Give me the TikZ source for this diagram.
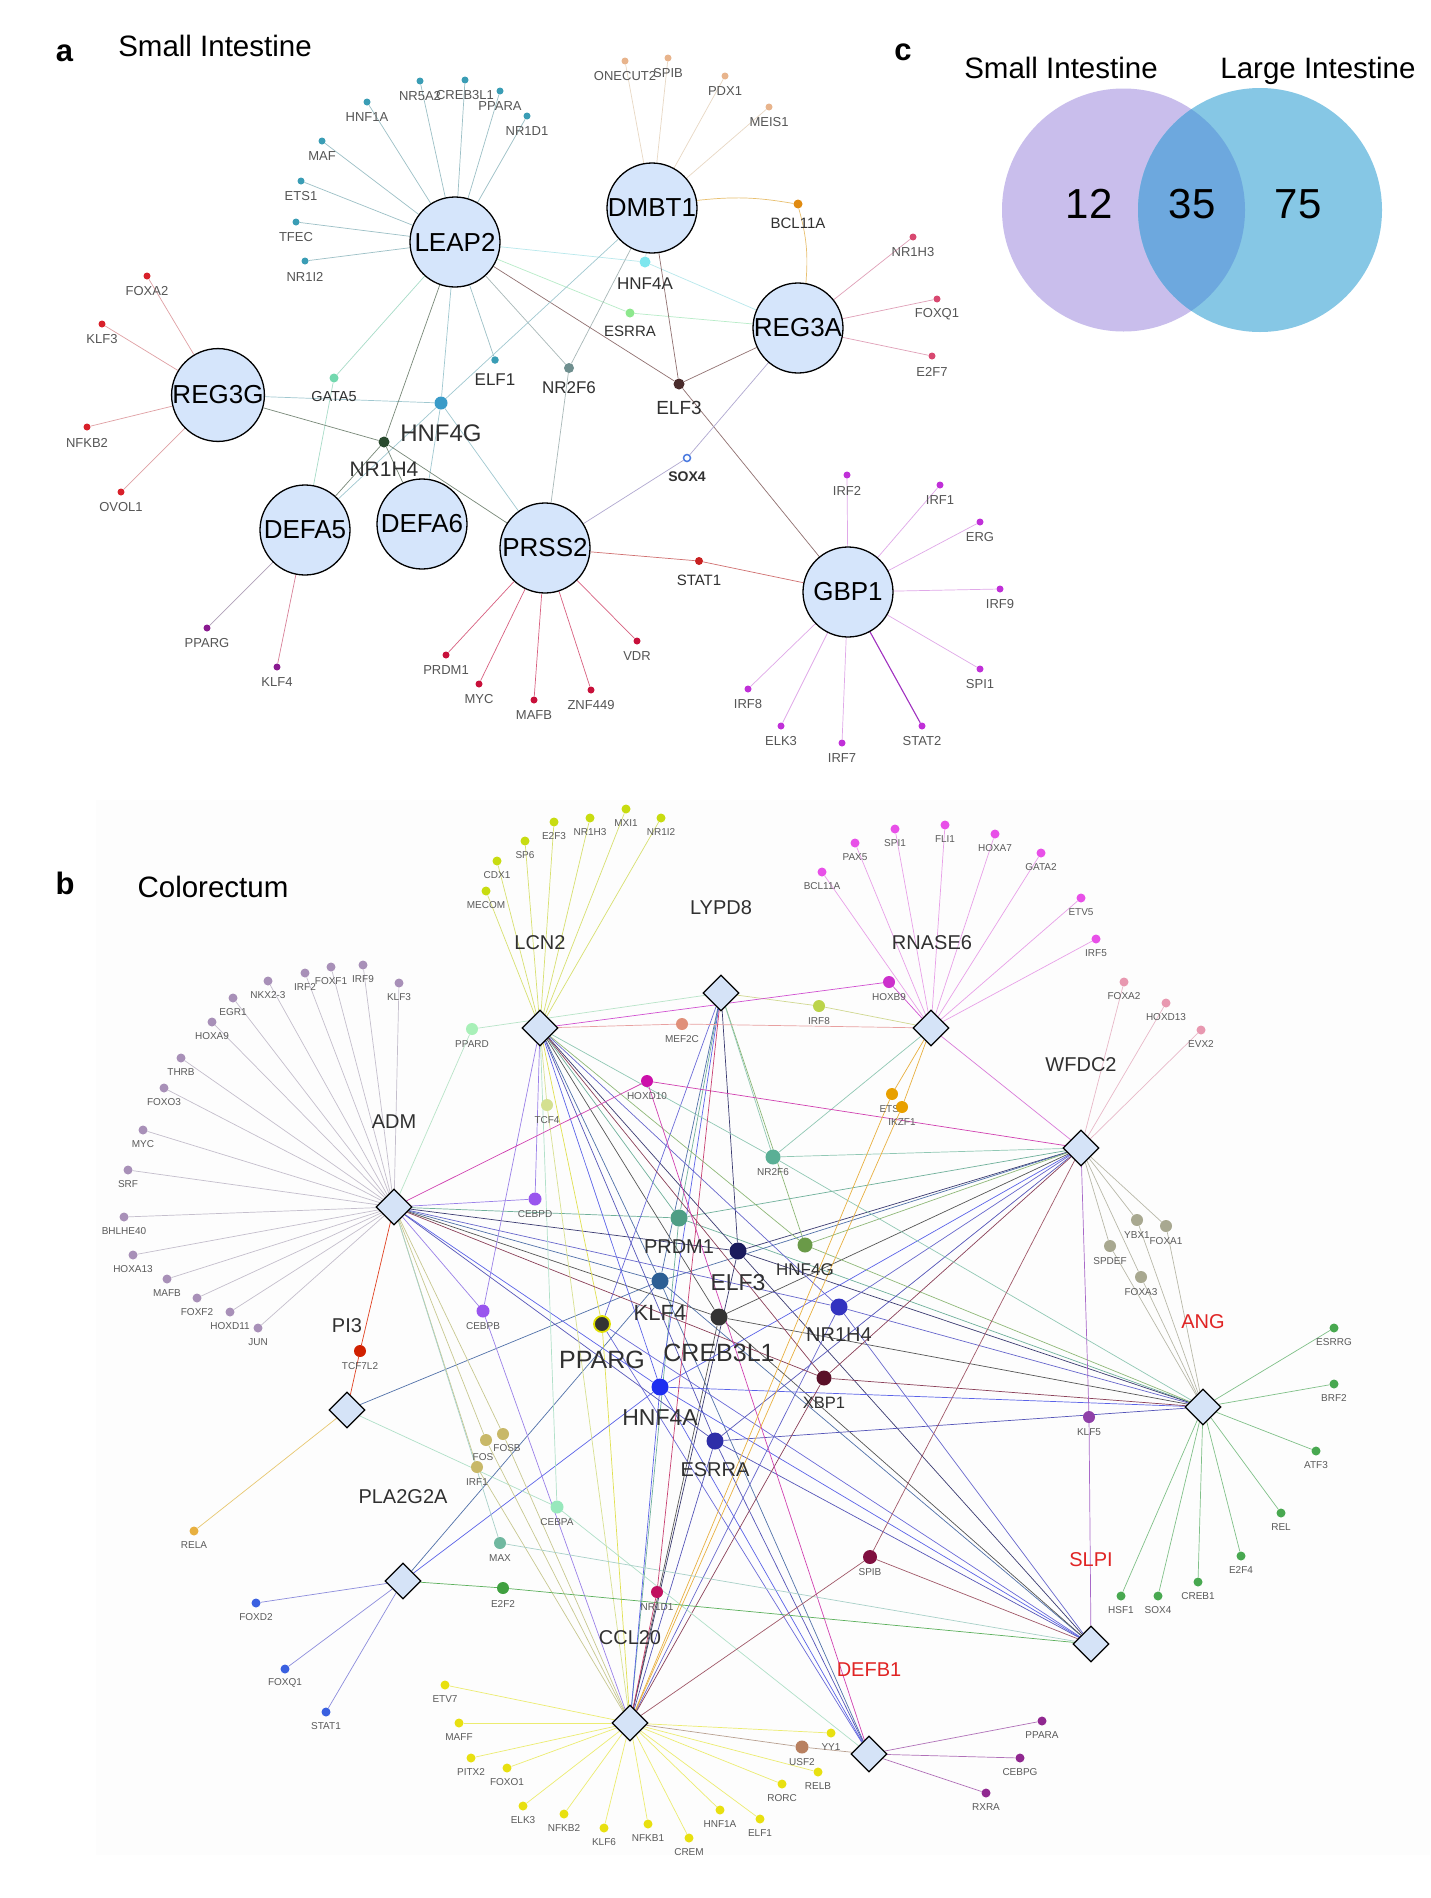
\documentclass[tikz,border=0pt]{standalone}
\usepackage{fontspec}
\setmainfont{Liberation Sans}
\usetikzlibrary{shapes.geometric,backgrounds}
\newcommand{\fsz}[1]{\fontsize{#1}{#1}\selectfont}
% general
\definecolor{cfill}{HTML}{D5E5FB}
\definecolor{dfill}{HTML}{D5E3F7}
\definecolor{labA}{HTML}{555555}
\definecolor{labB}{HTML}{5A5A5A}
\definecolor{labH}{HTML}{303030}
\definecolor{redlab}{HTML}{E02424}
\definecolor{venL}{HTML}{C9BEEC}
\definecolor{venR}{HTML}{86C7E5}
\definecolor{venM}{HTML}{6DA8DE}
\definecolor{panelbg}{HTML}{FDFDFD}
% panel a dot colours
\definecolor{dLEAP}{HTML}{3A9DB5}
\definecolor{dDMBT}{HTML}{E8B48C}
\definecolor{dREGA}{HTML}{D84870}
\definecolor{dREGG}{HTML}{D8202A}
\definecolor{dDEFA}{HTML}{8A1A90}
\definecolor{dPRSS}{HTML}{C8103A}
\definecolor{dGBP}{HTML}{C030D8}
\definecolor{dHNFa}{HTML}{7EE6EE}
\definecolor{dESRRA}{HTML}{8DE88D}
\definecolor{dNRtwo}{HTML}{6F8F8F}
\definecolor{dELFthree}{HTML}{4A2C2C}
\definecolor{dGATA}{HTML}{72D8AE}
\definecolor{dHNFg}{HTML}{3A9BC8}
\definecolor{dNRoneH}{HTML}{2A4A2E}
\definecolor{dSOX}{HTML}{4A7AE0}
\definecolor{dSTAT}{HTML}{C82020}
\definecolor{dBCL}{HTML}{E08A10}
% panel a edge colours
\definecolor{eLEAPs}{HTML}{9CC0C6}
\definecolor{eDMBTs}{HTML}{E8D8C4}
\definecolor{eREGAs}{HTML}{E0A0B8}
\definecolor{eREGGs}{HTML}{E0A0A4}
\definecolor{eDEFAp}{HTML}{B0A0B8}
\definecolor{eDEFAk}{HTML}{D88098}
\definecolor{ePRSSs}{HTML}{D86080}
\definecolor{eGBPs}{HTML}{E0A8E8}
\definecolor{eSTATtwo}{HTML}{A030C0}
\definecolor{eHNFa}{HTML}{B8E8EC}
\definecolor{eESRRA}{HTML}{B8ECC8}
\definecolor{eNRtwo}{HTML}{A8B8B8}
\definecolor{eELFthree}{HTML}{907070}
\definecolor{eGATA}{HTML}{A8DCC8}
\definecolor{eHNFg}{HTML}{A0C8D0}
\definecolor{eNRoneH}{HTML}{788878}
\definecolor{eSOX}{HTML}{B0A8D0}
\definecolor{eSTAT}{HTML}{D07070}
\definecolor{eBCL}{HTML}{E8C070}
% panel b hub colours
\definecolor{hPRDM}{HTML}{4E9E85}
\definecolor{hELF}{HTML}{1A1A5C}
\definecolor{hKLF}{HTML}{2C5E94}
\definecolor{hCREB}{HTML}{333333}
\definecolor{ringY}{HTML}{E0E000}
\definecolor{hHNFa}{HTML}{1E2EF0}
\definecolor{hESRRA}{HTML}{2E2EA8}
\definecolor{hNRoneH}{HTML}{3333C0}
\definecolor{hHNFg}{HTML}{6A9A48}
\definecolor{hXBP}{HTML}{5A1028}
\definecolor{mNRtwo}{HTML}{5AAF95}
\definecolor{mCEBP}{HTML}{9955EE}
\definecolor{mCEBPA}{HTML}{98E8BC}
\definecolor{mTCF}{HTML}{D4E090}
\definecolor{mHOXD}{HTML}{CC10AA}
\definecolor{mMEF}{HTML}{E0907A}
\definecolor{mPPARD}{HTML}{A8F0B8}
\definecolor{mIRFeight}{HTML}{BCD44A}
\definecolor{mHOXB}{HTML}{CC30CC}
\definecolor{mETS}{HTML}{E8A000}
\definecolor{mFOS}{HTML}{C8B868}
\definecolor{mMAX}{HTML}{70B8A0}
\definecolor{mEtwoF}{HTML}{40A040}
\definecolor{mNRoneD}{HTML}{C01060}
\definecolor{mSPIB}{HTML}{801040}
\definecolor{mKLFfive}{HTML}{9040A8}
\definecolor{mTCFseven}{HTML}{D02000}
\definecolor{mUSF}{HTML}{B88060}
\definecolor{mFOXA}{HTML}{A8A890}
% panel b satellite colours
\definecolor{sLCN}{HTML}{C8DC10}
\definecolor{sRN}{HTML}{E850E8}
\definecolor{sWF}{HTML}{E898B0}
\definecolor{sADM}{HTML}{A890B8}
\definecolor{sRELA}{HTML}{E8B040}
\definecolor{sPLA}{HTML}{3A60E0}
\definecolor{sANG}{HTML}{48A850}
\definecolor{sCCL}{HTML}{E8E010}
\definecolor{sDEF}{HTML}{902890}
% panel b edge colours
\definecolor{ePRDM}{HTML}{6FB09A}
\definecolor{eELF}{HTML}{3A3A70}
\definecolor{eKLF}{HTML}{5070A8}
\definecolor{eCREB}{HTML}{555555}
\definecolor{ePPY}{HTML}{E0E050}
\definecolor{ePPB}{HTML}{6A6AD8}
\definecolor{ebHNFa}{HTML}{5A62E8}
\definecolor{ebESRRA}{HTML}{5555B8}
\definecolor{ebNRoneH}{HTML}{6666CC}
\definecolor{ebHNFg}{HTML}{8FB878}
\definecolor{eXBP}{HTML}{8A4058}
\definecolor{ebNRtwo}{HTML}{90C8B4}
\definecolor{eCEBP}{HTML}{9A80E8}
\definecolor{eCEBPA}{HTML}{B0E0C8}
\definecolor{eTCF}{HTML}{D8E090}
\definecolor{eHOXD}{HTML}{D040B0}
\definecolor{eMEF}{HTML}{E8A0A0}
\definecolor{ePPARD}{HTML}{B8E4C8}
\definecolor{eIRFeight}{HTML}{D0D890}
\definecolor{eHOXB}{HTML}{D050D0}
\definecolor{eETS}{HTML}{E8B040}
\definecolor{eFOS}{HTML}{C8C890}
\definecolor{eMAX}{HTML}{A8D0C8}
\definecolor{eEtwoF}{HTML}{5CB05C}
\definecolor{eNRoneD}{HTML}{C84070}
\definecolor{eSPIB}{HTML}{A05868}
\definecolor{eKLFfive}{HTML}{A868C8}
\definecolor{eTCFseven}{HTML}{E04020}
\definecolor{eUSF}{HTML}{B8A090}
\definecolor{eFOXA}{HTML}{B8B8A8}
\definecolor{eRNWF}{HTML}{D878D8}
\definecolor{eLCNs}{HTML}{D8E070}
\definecolor{eRNs}{HTML}{E8A0E8}
\definecolor{eWFs}{HTML}{E8B8C8}
\definecolor{eADMs}{HTML}{C4BECC}
\definecolor{eRELA}{HTML}{E8C870}
\definecolor{ePLAs}{HTML}{8C8CDC}
\definecolor{eANGs}{HTML}{80C088}
\definecolor{eCCLs}{HTML}{ECEC70}
\definecolor{eDEFs}{HTML}{B070B8}

\tikzset{
 bigc/.style={circle,draw=black,line width=1.3pt,fill=cfill,minimum size=90pt,inner sep=0pt,font=\fsz{26}},
 dmd/.style={diamond,aspect=1,draw=black,line width=1.3pt,fill=dfill,minimum width=36pt,minimum height=36pt,inner sep=0pt},
 dotn/.style={circle,inner sep=0pt,minimum size=#1},
 alab/.style={inner sep=0pt,text=labA,font=\fsz{13}},
 blab/.style={inner sep=0pt,text=labB,font=\fsz{10}},
 hlab/.style={inner sep=0pt,text=labH,font=\fsz{#1}},
 dlab/.style={inner sep=0pt,text=labH,font=\fsz{20}},
 rlab/.style={inner sep=0pt,text=redlab,font=\fsz{20}},
 ed/.style={draw=#1,line width=0.7pt},
}
\newcommand{\asat}[5]{\node[dotn=7pt,fill=#4] (#1) at (#2,#3) {};\node[alab] (#1L) at (#2,#3+15.5) {#5};}
\newcommand{\bsat}[5]{\node[dotn=9pt,fill=#4] (#1) at (#2,#3) {};\node[blab] (#1L) at (#2,#3+14) {#5};}
\newcommand{\bmid}[6]{\node[dotn=#5,fill=#4] (#1) at (#2,#3) {};\node[blab] (#1L) at (#2,#3+15.5) {#6};}

\begin{document}
\begin{tikzpicture}[x=1pt,y=-1pt]
\useasboundingbox (0,0) rectangle (1430,1898);

% ---------------- titles ----------------
\node[font=\fsz{31}\bfseries,anchor=base,inner sep=0pt] (ta) at (64.5,61) {a};
\node[font=\fsz{29.5},anchor=base,inner sep=0pt] (tSI) at (215,56) {Small Intestine};
\node[font=\fsz{31}\bfseries,anchor=base,inner sep=0pt] (tb) at (65,894) {b};
\node[font=\fsz{29.5},anchor=base,inner sep=0pt] (tCR) at (213,897) {Colorectum};
\node[font=\fsz{31}\bfseries,anchor=base,inner sep=0pt] (tc) at (903,60) {c};

% ---------------- panel c: Venn ----------------
\fill[venL] (1123.5,210) circle[radius=121.5pt];
\fill[venR] (1260,210) circle[radius=122pt];
\begin{scope}
\clip (1123.5,210) circle[radius=121.5pt];
\fill[venM] (1260,210) circle[radius=122pt];
\end{scope}
\node[font=\fsz{29.5},anchor=base,inner sep=0pt] (vSI) at (1061,78) {Small Intestine};
\node[font=\fsz{29.5},anchor=base,inner sep=0pt] (vLI) at (1318,78) {Large Intestine};
\node[font=\fsz{42},anchor=base,inner sep=0pt] (v12) at (1089,218) {12};
\node[font=\fsz{42},anchor=base,inner sep=0pt] (v35) at (1192,218) {35};
\node[font=\fsz{42},anchor=base,inner sep=0pt] (v75) at (1298,218) {75};

% ---------------- panel a ----------------
\node[bigc] (aLEAP2) at (455,242) {LEAP2};
\node[bigc] (aDMBT1) at (652,208) {DMBT1};
\node[bigc] (aREG3A) at (798,328) {REG3A};
\node[bigc] (aREG3G) at (218,395) {REG3G};
\node[bigc] (aDEFA5) at (305,530) {DEFA5};
\node[bigc] (aDEFA6) at (422,524) {DEFA6};
\node[bigc] (aPRSS2) at (545,548) {PRSS2};
\node[bigc] (aGBP1) at (848,592) {GBP1};

\node[dotn=11pt,fill=dHNFa] (aHNF4A) at (645,262) {};
\node[hlab=17] (aHNF4AL) at (645,284) {HNF4A};
\node[dotn=9pt,fill=dESRRA] (aESRRA) at (630,313) {};
\node[hlab=15] (aESRRAL) at (630,331) {ESRRA};
\node[dotn=7.5pt,fill=dLEAP] (aELF1) at (495,360) {};
\node[hlab=17] (aELF1L) at (495,380) {ELF1};
\node[dotn=10pt,fill=dNRtwo] (aNR2F6) at (569,368) {};
\node[hlab=17] (aNR2F6L) at (569,388) {NR2F6};
\node[dotn=11pt,fill=dELFthree] (aELF3) at (679,384) {};
\node[hlab=19] (aELF3L) at (679,408) {ELF3};
\node[dotn=9pt,fill=dGATA] (aGATA5) at (334,378) {};
\node[hlab=14.5] (aGATA5L) at (334,397) {GATA5};
\node[dotn=13pt,fill=dHNFg] (aHNF4G) at (441,403) {};
\node[hlab=24] (aHNF4GL) at (441,433) {HNF4G};
\node[dotn=11pt,fill=dNRoneH] (aNR1H4) at (384,442) {};
\node[hlab=21] (aNR1H4L) at (384,469) {NR1H4};
\node[dotn=7pt,fill=white,draw=dSOX,line width=1.5pt] (aSOX4) at (687,458) {};
\node[hlab=14,font=\fsz{14}\bfseries] (aSOX4L) at (687,477) {SOX4};
\node[dotn=8pt,fill=dSTAT] (aSTAT1) at (699,561) {};
\node[hlab=15] (aSTAT1L) at (699,580) {STAT1};
\node[dotn=9pt,fill=dBCL] (aBCL11A) at (798,204) {};
\node[hlab=15] (aBCL11AL) at (798,223) {BCL11A};

\asat{aHNF1A}{367}{102}{dLEAP}{HNF1A}
\asat{aNR5A2}{420}{81}{dLEAP}{NR5A2}
\asat{aCREB3L1}{465}{80}{dLEAP}{CREB3L1}
\asat{aPPARA}{500}{91}{dLEAP}{PPARA}
\asat{aNR1D1}{527}{116}{dLEAP}{NR1D1}
\asat{aMAF}{322}{141}{dLEAP}{MAF}
\asat{aETS1}{301}{181}{dLEAP}{ETS1}
\asat{aTFEC}{296}{222}{dLEAP}{TFEC}
\asat{aNR1I2}{305}{261}{dLEAP}{NR1I2}
\asat{aONECUT2}{625}{61}{dDMBT}{ONECUT2}
\asat{aSPIB}{668}{58}{dDMBT}{SPIB}
\asat{aPDX1}{725}{76}{dDMBT}{PDX1}
\asat{aMEIS1}{769}{107}{dDMBT}{MEIS1}
\asat{aNR1H3}{913}{237}{dREGA}{NR1H3}
\asat{aFOXQ1}{937}{299}{dREGA}{FOXQ1}
\asat{aE2F7}{932}{356}{dREGA}{E2F7}
\asat{aFOXA2}{147}{276}{dREGG}{FOXA2}
\asat{aKLF3}{102}{324}{dREGG}{KLF3}
\asat{aNFKB2}{87}{427}{dREGG}{NFKB2}
\asat{aOVOL1}{121}{492}{dREGG}{OVOL1}
\asat{aPPARG}{207}{628}{dDEFA}{PPARG}
\asat{aKLF4}{277}{667}{dDEFA}{KLF4}
\asat{aPRDM1}{446}{655}{dPRSS}{PRDM1}
\asat{aMYC}{479}{684}{dPRSS}{MYC}
\asat{aMAFB}{534}{700}{dPRSS}{MAFB}
\asat{aZNF449}{591}{690}{dPRSS}{ZNF449}
\asat{aVDR}{637}{641}{dPRSS}{VDR}
\asat{aIRF2}{847}{475}{dGBP}{IRF2}
\asat{aIRF1}{940}{485}{dGBP}{IRF1}
\asat{aERG}{980}{522}{dGBP}{ERG}
\asat{aIRF9}{1000}{589}{dGBP}{IRF9}
\asat{aSPI1}{980}{669}{dGBP}{SPI1}
\asat{aSTAT2}{922}{726}{dGBP}{STAT2}
\asat{aIRF7}{842}{743}{dGBP}{IRF7}
\asat{aELK3}{781}{726}{dGBP}{ELK3}
\asat{aIRF8}{748}{689}{dGBP}{IRF8}

% ---------------- panel b ----------------
\node[dmd] (bLCN2) at (540,1028) {};
\node[dlab] (bLCN2L) at (540,943) {LCN2};
\node[dmd] (bLYPD8) at (721,993) {};
\node[dlab] (bLYPD8L) at (721,908) {LYPD8};
\node[dmd] (bRNASE6) at (931,1028) {};
\node[dlab] (bRNASE6L) at (932,943) {RNASE6};
\node[dmd] (bWFDC2) at (1081,1148) {};
\node[dlab] (bWFDC2L) at (1081,1065) {WFDC2};
\node[dmd] (bADM) at (394,1207) {};
\node[dlab] (bADML) at (394,1122) {ADM};
\node[dmd] (bPI3) at (347,1410) {};
\node[dlab] (bPI3L) at (347,1326) {PI3};
\node[dmd] (bPLA) at (403,1581) {};
\node[dlab] (bPLAL) at (403,1497) {PLA2G2A};
\node[dmd] (bANG) at (1203,1407) {};
\node[rlab] (bANGL) at (1203,1322) {ANG};
\node[dmd] (bCCL20) at (630,1723) {};
\node[dlab] (bCCL20L) at (630,1638) {CCL20};
\node[dmd] (bSLPI) at (1091,1644) {};
\node[rlab] (bSLPIL) at (1091,1560) {SLPI};
\node[dmd] (bDEFB1) at (869,1754) {};
\node[rlab] (bDEFB1L) at (869,1670) {DEFB1};

% hubs
\node[dotn=17pt,fill=hPRDM] (bPRDM1) at (679,1218) {};
\node[hlab=20] (bPRDM1L) at (679,1247) {PRDM1};
\node[dotn=17pt,fill=hELF] (bELF3) at (738,1251) {};
\node[hlab=23] (bELF3L) at (738,1283) {ELF3};
\node[dotn=17pt,fill=hKLF] (bKLF4) at (660,1281) {};
\node[hlab=22] (bKLF4L) at (660,1313) {KLF4};
\node[dotn=17pt,fill=hCREB] (bCREB3L1) at (719,1317) {};
\node[hlab=25] (bCREB3L1L) at (719,1353) {CREB3L1};
\node[dotn=16pt,fill=hCREB,draw=ringY,line width=1.8pt] (bPPARG) at (602,1324) {};
\node[hlab=25] (bPPARGL) at (602,1360) {PPARG};
\node[dotn=17pt,fill=hHNFa] (bHNF4A) at (660,1387) {};
\node[hlab=23] (bHNF4AL) at (660,1418) {HNF4A};
\node[dotn=17pt,fill=hESRRA] (bESRRA) at (715,1441) {};
\node[hlab=20] (bESRRAL) at (715,1470) {ESRRA};
\node[dotn=17pt,fill=hNRoneH] (bNR1H4) at (839,1307) {};
\node[hlab=20] (bNR1H4L) at (839,1335) {NR1H4};
\node[dotn=15pt,fill=hHNFg] (bHNF4G) at (805,1245) {};
\node[hlab=17] (bHNF4GL) at (805,1270) {HNF4G};
\node[dotn=15pt,fill=hXBP] (bXBP1) at (824,1378) {};
\node[hlab=16.5] (bXBP1L) at (824,1403) {XBP1};

% mid-size TFs
\bmid{bNR2F6}{773}{1157}{mNRtwo}{15pt}{NR2F6}
\bmid{bCEBPD}{535}{1199}{mCEBP}{13pt}{CEBPD}
\bmid{bCEBPB}{483}{1311}{mCEBP}{13pt}{CEBPB}
\bmid{bCEBPA}{557}{1507}{mCEBPA}{13pt}{CEBPA}
\bmid{bTCF4}{547}{1105}{mTCF}{12pt}{TCF4}
\bmid{bHOXD10}{647}{1081}{mHOXD}{12pt}{HOXD10}
\bmid{bMEF2C}{682}{1024}{mMEF}{12pt}{MEF2C}
\bmid{bPPARD}{472}{1029}{mPPARD}{12pt}{PPARD}
\bmid{bIRF8}{819}{1006}{mIRFeight}{12pt}{IRF8}
\bmid{bHOXB9}{889}{982}{mHOXB}{12pt}{HOXB9}
\bmid{bETS1}{892}{1094}{mETS}{12pt}{ETS1}
\bmid{bIKZF1}{902}{1107}{mETS}{12pt}{IKZF1}
\node[dotn=12pt,fill=mFOS] (bFOS) at (486,1440) {};
\node[blab] (bFOSL) at (483,1457) {FOS};
\node[dotn=12pt,fill=mFOS] (bFOSB) at (503,1434) {};
\node[blab] (bFOSBL) at (507,1448) {FOSB};
\bmid{bIRF1}{477}{1467}{mFOS}{12pt}{IRF1}
\bmid{bMAX}{500}{1543}{mMAX}{12pt}{MAX}
\bmid{bE2F2}{503}{1588}{mEtwoF}{12pt}{E2F2}
\bmid{bNR1D1}{657}{1592}{mNRoneD}{12pt}{NR1D1}
\bmid{bSPIB}{870}{1557}{mSPIB}{14pt}{SPIB}
\bmid{bKLF5}{1089}{1417}{mKLFfive}{12pt}{KLF5}
\bmid{bTCF7L2}{360}{1351}{mTCFseven}{12pt}{TCF7L2}
\bmid{bUSF2}{802}{1747}{mUSF}{13pt}{USF2}
\bmid{bYBX1}{1137}{1220}{mFOXA}{12pt}{YBX1}
\bmid{bFOXA1}{1166}{1226}{mFOXA}{12pt}{FOXA1}
\bmid{bSPDEF}{1110}{1246}{mFOXA}{12pt}{SPDEF}
\bmid{bFOXA3}{1141}{1277}{mFOXA}{12pt}{FOXA3}

% satellites
\bsat{bMECOM}{486}{891}{sLCN}{MECOM}
\bsat{bCDX1}{497}{861}{sLCN}{CDX1}
\bsat{bSP6}{525}{841}{sLCN}{SP6}
\bsat{bE2F3}{554}{822}{sLCN}{E2F3}
\bsat{bNR1H3}{590}{818}{sLCN}{NR1H3}
\bsat{bMXI1}{626}{809}{sLCN}{MXI1}
\bsat{bNR1I2}{661}{818}{sLCN}{NR1I2}
\bsat{bBCL11A}{822}{872}{sRN}{BCL11A}
\bsat{bPAX5}{855}{843}{sRN}{PAX5}
\bsat{bSPI1}{895}{829}{sRN}{SPI1}
\bsat{bFLI1}{945}{825}{sRN}{FLI1}
\bsat{bHOXA7}{995}{834}{sRN}{HOXA7}
\bsat{bGATA2}{1041}{853}{sRN}{GATA2}
\bsat{bETV5}{1081}{898}{sRN}{ETV5}
\bsat{bIRF5}{1096}{939}{sRN}{IRF5}
\bsat{bFOXA2}{1124}{982}{sWF}{FOXA2}
\bsat{bHOXD13}{1166}{1003}{sWF}{HOXD13}
\bsat{bEVX2}{1201}{1030}{sWF}{EVX2}
\bsat{bKLF3}{399}{983}{sADM}{KLF3}
\bsat{bIRF9}{363}{965}{sADM}{IRF9}
\bsat{bFOXF1}{331}{967}{sADM}{FOXF1}
\bsat{bIRF2}{305}{973}{sADM}{IRF2}
\bsat{bNKX23}{268}{981}{sADM}{NKX2-3}
\bsat{bEGR1}{233}{998}{sADM}{EGR1}
\bsat{bHOXA9}{212}{1022}{sADM}{HOXA9}
\bsat{bTHRB}{181}{1058}{sADM}{THRB}
\bsat{bFOXO3}{164}{1088}{sADM}{FOXO3}
\bsat{bMYC}{143}{1130}{sADM}{MYC}
\bsat{bSRF}{128}{1170}{sADM}{SRF}
\bsat{bBHLHE40}{124}{1217}{sADM}{BHLHE40}
\bsat{bHOXA13}{133}{1255}{sADM}{HOXA13}
\bsat{bMAFB}{167}{1279}{sADM}{MAFB}
\bsat{bFOXF2}{197}{1298}{sADM}{FOXF2}
\bsat{bHOXD11}{230}{1312}{sADM}{HOXD11}
\bsat{bJUN}{258}{1328}{sADM}{JUN}
\bsat{bRELA}{194}{1531}{sRELA}{RELA}
\bsat{bFOXD2}{256}{1603}{sPLA}{FOXD2}
\bsat{bFOXQ1}{285}{1669}{sPLA}{FOXQ1}
\bsat{bSTAT1}{326}{1712}{sPLA}{STAT1}
\bsat{bESRRG}{1334}{1328}{sANG}{ESRRG}
\bsat{bBRF2}{1334}{1384}{sANG}{BRF2}
\bsat{bATF3}{1316}{1451}{sANG}{ATF3}
\bsat{bREL}{1281}{1513}{sANG}{REL}
\bsat{bE2F4}{1241}{1556}{sANG}{E2F4}
\bsat{bCREB1}{1198}{1582}{sANG}{CREB1}
\bsat{bSOX4}{1158}{1596}{sANG}{SOX4}
\bsat{bHSF1}{1121}{1596}{sANG}{HSF1}
\bsat{bETV7}{445}{1685}{sCCL}{ETV7}
\bsat{bMAFF}{459}{1723}{sCCL}{MAFF}
\bsat{bPITX2}{471}{1758}{sCCL}{PITX2}
\bsat{bFOXO1}{507}{1768}{sCCL}{FOXO1}
\bsat{bELK3}{523}{1806}{sCCL}{ELK3}
\bsat{bNFKB2}{564}{1814}{sCCL}{NFKB2}
\bsat{bKLF6}{604}{1828}{sCCL}{KLF6}
\bsat{bNFKB1}{648}{1824}{sCCL}{NFKB1}
\bsat{bCREM}{689}{1838}{sCCL}{CREM}
\bsat{bHNF1A}{720}{1810}{sCCL}{HNF1A}
\bsat{bELF1}{760}{1819}{sCCL}{ELF1}
\bsat{bRORC}{782}{1784}{sCCL}{RORC}
\bsat{bRELB}{818}{1772}{sCCL}{RELB}
\bsat{bYY1}{831}{1733}{sCCL}{YY1}
\bsat{bPPARA}{1042}{1721}{sDEF}{PPARA}
\bsat{bCEBPG}{1020}{1758}{sDEF}{CEBPG}
\bsat{bRXRA}{986}{1793}{sDEF}{RXRA}

% ---------------- connectors (behind) ----------------
\begin{scope}[on background layer]
\fill[white] (0,0) rectangle (1430,1898);
\fill[panelbg] (96,800) rectangle (1430,1855);
% panel a
\foreach \s in {aHNF1A,aNR5A2,aCREB3L1,aPPARA,aNR1D1,aMAF,aETS1,aTFEC,aNR1I2,aELF1} \draw[ed=eLEAPs] (aLEAP2) -- (\s);
\foreach \s in {aONECUT2,aSPIB,aPDX1,aMEIS1} \draw[ed=eDMBTs] (aDMBT1) -- (\s);
\foreach \s in {aNR1H3,aFOXQ1,aE2F7} \draw[ed=eREGAs] (aREG3A) -- (\s);
\foreach \s in {aFOXA2,aKLF3,aNFKB2,aOVOL1} \draw[ed=eREGGs] (aREG3G) -- (\s);
\draw[ed=eDEFAp] (aDEFA5) -- (aPPARG);
\draw[ed=eDEFAk] (aDEFA5) -- (aKLF4);
\foreach \s in {aPRDM1,aMYC,aMAFB,aZNF449,aVDR} \draw[ed=ePRSSs] (aPRSS2) -- (\s);
\foreach \s in {aIRF2,aIRF1,aERG,aIRF9,aSPI1,aIRF7,aELK3,aIRF8} \draw[ed=eGBPs] (aGBP1) -- (\s);
\draw[draw=eSTATtwo,line width=1.1pt] (aGBP1) -- (aSTAT2);
\foreach \g in {aLEAP2,aDMBT1,aREG3A} \draw[ed=eHNFa] (aHNF4A) -- (\g);
\foreach \g in {aLEAP2,aREG3A} \draw[ed=eESRRA] (aESRRA) -- (\g);
\foreach \g in {aLEAP2,aDMBT1,aPRSS2} \draw[ed=eNRtwo] (aNR2F6) -- (\g);
\foreach \g in {aLEAP2,aDMBT1,aREG3A,aGBP1} \draw[ed=eELFthree] (aELF3) -- (\g);
\foreach \g in {aLEAP2,aDEFA5} \draw[ed=eGATA] (aGATA5) -- (\g);
\foreach \g in {aREG3G,aLEAP2,aDMBT1,aDEFA5,aDEFA6,aPRSS2} \draw[ed=eHNFg] (aHNF4G) -- (\g);
\foreach \g in {aREG3G,aLEAP2,aDEFA5,aDEFA6,aPRSS2} \draw[ed=eNRoneH] (aNR1H4) -- (\g);
\foreach \g in {aREG3A,aPRSS2} \draw[ed=eSOX] (aSOX4) -- (\g);
\foreach \g in {aPRSS2,aGBP1} \draw[ed=eSTAT] (aSTAT1) -- (\g);
\draw[ed=eBCL] (aDMBT1) to[bend left=8] (aBCL11A);
\draw[ed=eBCL] (aBCL11A) to[bend left=10] (aREG3A);
% panel b satellites
\foreach \s in {bMECOM,bCDX1,bSP6,bE2F3,bNR1H3,bMXI1,bNR1I2} \draw[ed=eLCNs] (bLCN2) -- (\s);
\foreach \s in {bBCL11A,bPAX5,bSPI1,bFLI1,bHOXA7,bGATA2,bETV5,bIRF5} \draw[ed=eRNs] (bRNASE6) -- (\s);
\foreach \s in {bFOXA2,bHOXD13,bEVX2} \draw[ed=eWFs] (bWFDC2) -- (\s);
\foreach \s in {bKLF3,bIRF9,bFOXF1,bIRF2,bNKX23,bEGR1,bHOXA9,bTHRB,bFOXO3,bMYC,bSRF,bBHLHE40,bHOXA13,bMAFB,bFOXF2,bHOXD11,bJUN} \draw[ed=eADMs] (bADM) -- (\s);
\draw[ed=eRELA] (bPI3) -- (bRELA);
\foreach \s in {bFOXD2,bFOXQ1,bSTAT1} \draw[ed=ePLAs] (bPLA) -- (\s);
\foreach \s in {bESRRG,bBRF2,bATF3,bREL,bE2F4,bCREB1,bSOX4,bHSF1} \draw[ed=eANGs] (bANG) -- (\s);
\foreach \s in {bETV7,bMAFF,bPITX2,bFOXO1,bELK3,bNFKB2,bKLF6,bNFKB1,bCREM,bHNF1A,bELF1,bRORC,bRELB,bYY1} \draw[ed=eCCLs] (bCCL20) -- (\s);
\foreach \s in {bPPARA,bCEBPG,bRXRA} \draw[ed=eDEFs] (bDEFB1) -- (\s);
% panel b shared TFs
\foreach \g in {bADM,bLYPD8,bWFDC2,bCCL20,bANG,bLCN2} \draw[ed=ePRDM] (bPRDM1) -- (\g);
\foreach \g in {bLCN2,bADM,bWFDC2,bANG,bSLPI,bCCL20,bLYPD8} \draw[ed=eELF] (bELF3) -- (\g);
\foreach \g in {bLCN2,bADM,bWFDC2,bLYPD8,bSLPI,bDEFB1,bPI3,bPLA} \draw[ed=eKLF] (bKLF4) -- (\g);
\foreach \g in {bLCN2,bADM,bWFDC2,bANG,bSLPI,bCCL20} \draw[ed=eCREB] (bCREB3L1) -- (\g);
\foreach \g in {bLCN2,bCCL20} \draw[ed=ePPY] (bPPARG) -- (\g);
\foreach \g in {bLYPD8,bSLPI,bDEFB1} \draw[ed=ePPB] (bPPARG) -- (\g);
\foreach \g in {bLCN2,bLYPD8,bADM,bWFDC2,bANG,bSLPI,bCCL20,bDEFB1,bPLA} \draw[ed=ebHNFa] (bHNF4A) -- (\g);
\foreach \g in {bLCN2,bADM,bWFDC2,bANG,bSLPI,bCCL20,bDEFB1} \draw[ed=ebESRRA] (bESRRA) -- (\g);
\foreach \g in {bLCN2,bADM,bWFDC2,bANG,bSLPI,bCCL20} \draw[ed=ebNRoneH] (bNR1H4) -- (\g);
\foreach \g in {bLYPD8,bWFDC2,bLCN2,bANG} \draw[ed=ebHNFg] (bHNF4G) -- (\g);
\foreach \g in {bADM,bWFDC2,bANG,bLCN2,bCCL20} \draw[ed=eXBP] (bXBP1) -- (\g);
\foreach \g in {bLYPD8,bLCN2,bRNASE6,bWFDC2,bANG} \draw[ed=ebNRtwo] (bNR2F6) -- (\g);
\foreach \g in {bADM,bLCN2} \draw[ed=eCEBP] (bCEBPD) -- (\g);
\foreach \g in {bADM,bLCN2,bCCL20} \draw[ed=eCEBP] (bCEBPB) -- (\g);
\foreach \g in {bPI3,bLCN2,bDEFB1} \draw[ed=eCEBPA] (bCEBPA) -- (\g);
\foreach \g in {bLCN2,bCCL20} \draw[ed=eTCF] (bTCF4) -- (\g);
\foreach \g in {bADM,bWFDC2,bDEFB1} \draw[ed=eHOXD] (bHOXD10) -- (\g);
\foreach \g in {bLCN2,bRNASE6} \draw[ed=eMEF] (bMEF2C) -- (\g);
\foreach \g in {bLYPD8,bADM} \draw[ed=ePPARD] (bPPARD) -- (\g);
\foreach \g in {bLYPD8,bRNASE6} \draw[ed=eIRFeight] (bIRF8) -- (\g);
\foreach \g in {bLCN2,bRNASE6} \draw[ed=eHOXB] (bHOXB9) -- (\g);
\foreach \g in {bRNASE6,bCCL20} \draw[ed=eETS] (bETS1) -- (\g);
\foreach \g in {bRNASE6,bCCL20} \draw[ed=eETS] (bIKZF1) -- (\g);
\foreach \t in {bFOS,bFOSB,bIRF1} {\foreach \g in {bADM,bCCL20} \draw[ed=eFOS] (\t) -- (\g);}
\foreach \g in {bADM,bSLPI} \draw[ed=eMAX] (bMAX) -- (\g);
\foreach \g in {bPLA,bSLPI} \draw[ed=eEtwoF] (bE2F2) -- (\g);
\foreach \g in {bCCL20,bLYPD8} \draw[ed=eNRoneD] (bNR1D1) -- (\g);
\foreach \g in {bWFDC2,bSLPI,bCCL20} \draw[ed=eSPIB] (bSPIB) -- (\g);
\foreach \g in {bWFDC2,bSLPI} \draw[ed=eKLFfive] (bKLF5) -- (\g);
\foreach \g in {bADM,bPI3} \draw[ed=eTCFseven] (bTCF7L2) -- (\g);
\foreach \g in {bCCL20,bDEFB1} \draw[ed=eUSF] (bUSF2) -- (\g);
\foreach \t in {bYBX1,bFOXA1,bSPDEF,bFOXA3} {\foreach \g in {bWFDC2,bANG} \draw[ed=eFOXA] (\t) -- (\g);}
\draw[ed=eRNWF] (bRNASE6) -- (bWFDC2);
\end{scope}
\end{tikzpicture}
\end{document}
